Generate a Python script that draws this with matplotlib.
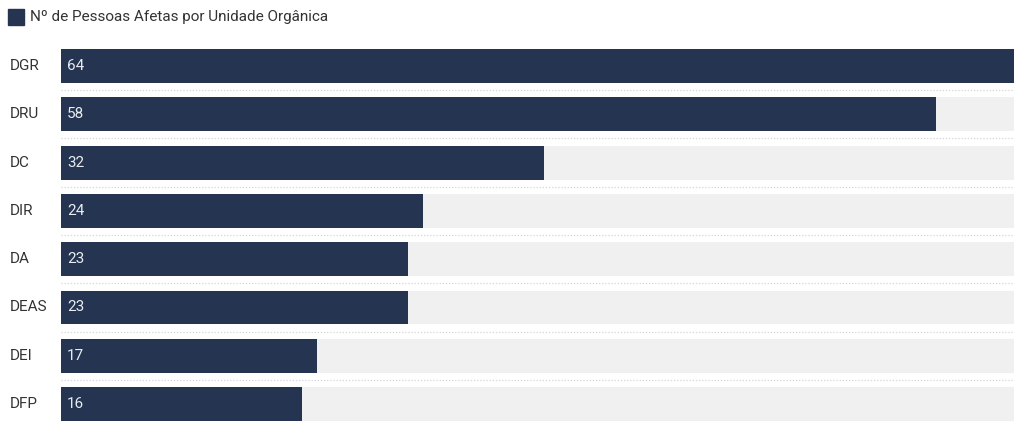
import matplotlib.pyplot as plt
from matplotlib.patches import Rectangle

categories = ['DGR', 'DRU', 'DC', 'DIR', 'DA', 'DEAS', 'DEI', 'DFP']
values = [64, 58, 32, 24, 23, 23, 17, 16]
series_name = 'Nº de Pessoas Afetas por Unidade Orgânica'

plt.rcParams['font.family'] = ['Roboto', 'DejaVu Sans']
bar_color = '#253450'
xmax = 63.2

fig = plt.figure(figsize=(10.14, 4.21), dpi=100)
ax = fig.add_axes([61 / 1014, 0, 1 - 61 / 1014, 379.15 / 421])
ax.set_xlim(0, xmax)
ax.set_ylim(7.35, -0.5)
ax.axis('off')

ypos = list(range(len(categories)))
ax.barh(ypos, [xmax] * len(categories), height=0.70, color='#f0f0f0', zorder=1)
ax.barh(ypos, values, height=0.70, color=bar_color, zorder=2)

for i in range(len(categories) - 1):
    ax.axhline(i + 0.5, color='#d5d5d5', lw=0.9, ls=(0, (1, 1.5)), zorder=0)

for y, cat, v in zip(ypos, categories, values):
    ax.text(0.4, y, str(v), color='#e8ecf2', fontsize=11, va='center', ha='left', zorder=3)
    ax.annotate(cat, xy=(0, y), xycoords=('figure pixels', 'data'), xytext=(10, 0),
                textcoords='offset pixels', va='center', ha='left', fontsize=11, color='#333333')

fig.patches.append(Rectangle((8 / 1014, 1 - 25 / 421), 16 / 1014, 16 / 421,
                             transform=fig.transFigure, color=bar_color))
fig.text(30 / 1014, 1 - 17 / 421, series_name, fontsize=11, color='#333333', va='center', ha='left')

fig.savefig('out.png', dpi=100)
